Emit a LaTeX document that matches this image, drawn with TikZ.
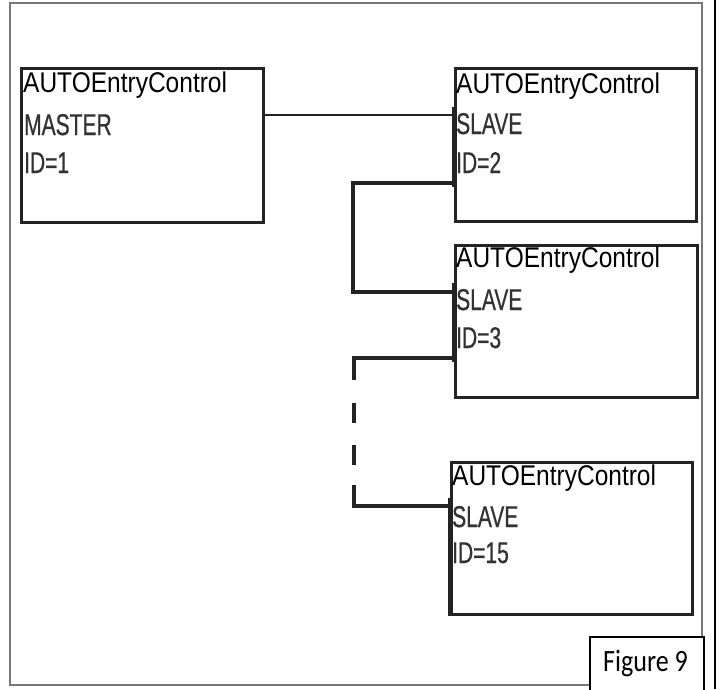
\documentclass[tikz,border=0pt]{standalone}
\usepackage{fontspec}
\setmainfont{Liberation Sans}
\newfontfamily\arialc[FakeStretch=0.86]{Liberation Sans}
\newfontfamily\condf[FakeStretch=0.7,FakeBold=0.6]{Liberation Sans}
\newfontfamily\calib[FakeStretch=0.84]{Carlito}
\definecolor{framegray}{RGB}{120,120,120}
\definecolor{boxline}{RGB}{35,35,35}
\definecolor{condtext}{RGB}{50,50,50}
\begin{document}
\begin{tikzpicture}[x=1pt,y=-1pt,
  boxst/.style={draw=boxline, line width=3pt, anchor=north west, inner sep=0pt, fill=white},
  autot/.style={anchor=base west, inner sep=0pt, font=\arialc\fontsize{28.5}{30}\selectfont},
  condt/.style={anchor=base west, inner sep=0pt, text=condtext, font=\condf\fontsize{30}{32}\selectfont},
  thinconn/.style={draw=boxline, line width=2pt},
  thickconn/.style={draw=boxline, line width=4pt},
  edgemark/.style={draw=boxline, line width=4.5pt}]
\useasboundingbox (0,0) rectangle (721,689);
\fill[white] (0,0) rectangle (721,689);
% outer frame
\draw[framegray, line width=2pt] (10,3) rectangle (702,685);
\draw[black, line width=2.5pt] (715,0) -- (715,689);

% boxes
\node[boxst, minimum width=242pt, minimum height=154pt] (m) at (20,67) {};
\node[boxst, minimum width=241pt, minimum height=153pt] (s2) at (454,67) {};
\node[boxst, minimum width=242pt, minimum height=152pt] (s3) at (454,244) {};
\node[boxst, minimum width=241pt, minimum height=152pt] (s15) at (450,461) {};

% texts
\node[autot] (m1) at (23,92) {AUTOEntryControl};
\node[condt] (m2) at (24,135) {MASTER};
\node[condt] (m3) at (24,173) {ID=1};

\node[autot] (a1) at (456,93) {AUTOEntryControl};
\node[condt] (a2) at (456,134) {SLAVE};
\node[condt] (a3) at (456,173) {ID=2};

\node[autot] (b1) at (456,267) {AUTOEntryControl};
\node[condt] (b2) at (456,310) {SLAVE};
\node[condt] (b3) at (456,348) {ID=3};

\node[autot] (c1) at (452,485) {AUTOEntryControl};
\node[condt] (c2) at (452,527) {SLAVE};
\node[condt] (c3) at (452,563) {ID=15};

% connectors
\coordinate (j1) at (353,183);
\coordinate (j2) at (353,292);
\coordinate (j3) at (354,358);
\coordinate (j4) at (354,506);
\draw[thinconn] (m.east |- 0,115) -- (s2.west |- 0,115);
\draw[thickconn] (s2.west |- j1) -- (j1) -- (j2) -- (s3.west |- j2);
\draw[thickconn, dash pattern=on 122pt off 23pt on 20pt off 22pt on 20pt off 20pt on 300pt]
  (s3.west |- j3) -- (j3) -- (j4) -- (s15.west |- j4);

% thick left edges
\draw[edgemark] (s2.north west |- 0,107) -- (s2.north west |- 0,187);
\draw[edgemark] (s3.north west |- 0,283) -- (s3.north west |- 0,362);
\draw[edgemark] (s15.north west |- 0,498) -- (s15.south west);

% figure label
\node[draw=black, line width=1.5pt, fill=white, anchor=north west, inner sep=0pt,
  minimum width=114pt, minimum height=60pt] (fig) at (589,636) {};
\node[anchor=base west, inner sep=0pt, font=\calib\fontsize{31}{33}\selectfont] (figt) at (603,671) {Figure 9};
\end{tikzpicture}
\end{document}
